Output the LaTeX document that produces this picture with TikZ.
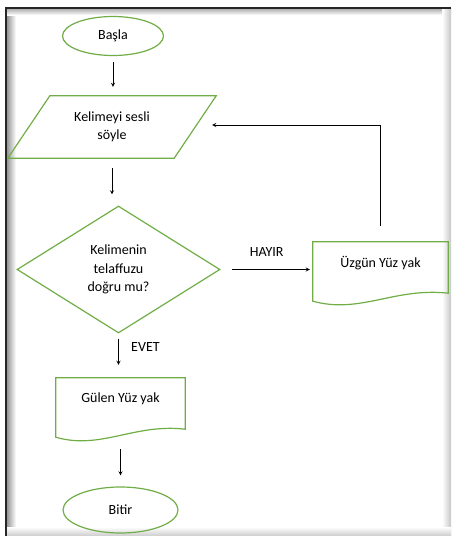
\documentclass[tikz,border=0pt]{standalone}
\usepackage{fontspec}
\setmainfont{Carlito}
\usetikzlibrary{arrows,positioning,shapes.geometric,calc}
\definecolor{akisyesil}{RGB}{112,173,71}
\newcommand{\belge}[1]{\draw[sekil] (#1.north west) -- (#1.north east) -- ($(#1.south east)+(0,9)$) .. controls ($(#1.south)+(14,3)$) and ($(#1.south)+(-20,30)$) .. ($(#1.south west)+(0,17)$) -- cycle;}
\newcommand{\paralel}[2]{\draw[sekil] ($(#1.north west)+(#2,0)$) -- ($(#1.north east)+(#2,0)$) -- ($(#1.south east)-(#2,0)$) -- ($(#1.south west)-(#2,0)$) -- cycle;}

\begin{document}
\begin{tikzpicture}[x=1pt,y=-1pt,>=stealth,font=\fontsize{14}{18.5}\selectfont,
  sekil/.style={draw=akisyesil,line width=1.2pt,align=center},
  ok/.style={->,black,line width=0.8pt}]
\useasboundingbox (0,0) rectangle (451,536);
\fill[left color=black!45,right color=white] (6,8) rectangle (16,536);
\fill[top color=black!35,bottom color=white] (6,8) rectangle (451,15);
\fill[left color=white,right color=black!22] (442,9) rectangle (451,536);
\fill[top color=white,bottom color=black!20] (7,527) rectangle (451,536);
\draw[black!85,line width=2pt] (6,536) -- (6,8) -- (451,8);
\node[sekil,ellipse,minimum width=101,minimum height=39,inner sep=0] (basla) at (113,36) {Başla};
\node[align=center,minimum width=166,minimum height=62,inner sep=0] (soyle) at (112,127) {Kelimeyi sesli\\söyle\vphantom{Ky}};
\node[sekil,diamond,aspect=1.6,minimum width=203,minimum height=127,inner sep=0] (telaffuz) at (118.5,269.5) {Kelimenin\\telaffuzu\\doğru mu?};
\node[minimum width=135,minimum height=42,inner sep=0] (uzgun) at (380.5,263) {Üzgün Yüz yak};
\node[minimum width=129,minimum height=42,inner sep=0] (gulen) at (120.5,399) {Gülen Yüz yak};
\node[sekil,ellipse,minimum width=115,minimum height=46,inner sep=0] (bitir) at (120.5,510) {Bitir};
\paralel{soyle}{21}
\belge{uzgun}
\belge{gulen}
\draw[ok,shorten <=6pt,shorten >=9pt] (basla.south) -- (basla.south |- soyle.north);
\draw[ok,shorten <=10pt,shorten >=11pt] (soyle.south) -- (soyle.south |- telaffuz.north);
\draw[ok,shorten <=11pt,shorten >=3pt] (telaffuz.east) -- node[above=9pt] {HAYIR} (telaffuz.east -| uzgun.west);
\draw[ok,shorten <=16pt] (uzgun.north) |- ($(soyle.east)+(17,-2)$);
\draw[ok,shorten <=5pt,shorten >=13pt] (telaffuz.south) -- node[pos=0.3,right=9pt] {EVET} (telaffuz.south |- gulen.north);
\draw[ok,shorten <=29pt,shorten >=11pt] (gulen.south) -- (gulen.south |- bitir.north);
\end{tikzpicture}
\end{document}
